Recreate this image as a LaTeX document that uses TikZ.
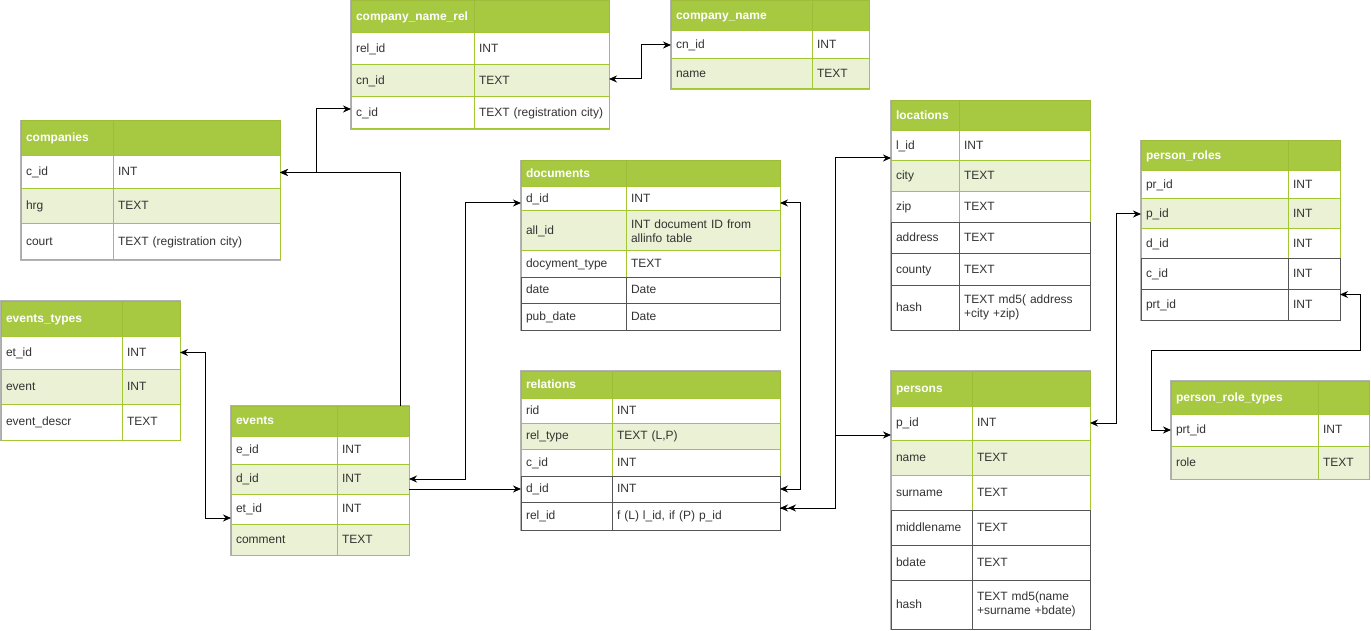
\documentclass[tikz,border=0pt]{standalone}
\usepackage{fontspec}
\setmainfont{Liberation Sans}
\usepackage{xcolor}
\usepackage{tikz}
\usetikzlibrary{arrows.meta}
\usetikzlibrary{backgrounds}
\definecolor{hdrgreen}{HTML}{A7C942}
\definecolor{hdrline}{HTML}{9CBC3A}
\definecolor{rowgreen}{HTML}{A3C634}
\definecolor{altfill}{HTML}{EAF1D5}
\definecolor{darkline}{HTML}{555555}
\definecolor{frameg}{HTML}{B3B3B3}
\definecolor{txt}{HTML}{333333}
\hyphenpenalty=10000
\exhyphenpenalty=10000

\begin{document}
\begin{tikzpicture}[x=1pt,y=-1pt,
  every node/.style={anchor=north west,inner xsep=5pt,inner ysep=0pt,outer sep=0pt,
    align=left,font=\fontsize{12}{14}\selectfont,text=txt},
  base/.style={draw=rowgreen,fill=white,line width=1pt},
  fld/.style={base,text height=10pt,text depth=3pt},
  fld2/.style={base},
  altrow/.style={fill=altfill},
  darkrow/.style={draw=darkline},
  hdr/.style={fill=hdrgreen,draw=hdrline,line width=1pt,text=white,
    font=\fontsize{12}{14}\selectfont\bfseries,text height=10pt,text depth=3pt},
  ht/.style={minimum height=#1},
  tblframe/.style={draw=frameg,line width=2.5pt},
  link/.style={draw=black,line width=1pt,>={Stealth[length=8pt,width=7pt]}},
  dbl/.style={arrows={Stealth[length=8pt,width=7pt] Stealth[length=8pt,width=7pt]-Stealth[length=8pt,width=7pt]}}]
\useasboundingbox (0,0) rectangle (1371,631);

% company_name_rel
\begin{scope}[nm/.style={text width=113pt},ty/.style={text width=125pt}]
\node[hdr,nm,ht=32] (cnr) at (351,1) {company\_name\_rel};
\node[hdr,ty,ht=32] (cnr-h) at (474,1) {};
\node[fld,nm,ht=32] (cnr-relid) at (351,33) {rel\_id};
\node[fld,ty,ht=32] (cnr-relid-t) at (474,33) {INT};
\node[fld,altrow,nm,ht=32] (cnr-cnid) at (351,65) {cn\_id};
\node[fld,altrow,ty,ht=32] (cnr-cnid-t) at (474,65) {TEXT};
\node[fld,nm,ht=32] (cnr-cid) at (351,97) {c\_id};
\node[fld,ty,ht=32] (cnr-cid-t) at (474,97) {TEXT (registration city)};
\end{scope}

% company_name
\begin{scope}[nm/.style={text width=131pt},ty/.style={text width=47pt}]
\node[hdr,nm,ht=30] (cn) at (671,1) {company\_name};
\node[hdr,ty,ht=30] (cn-h) at (812,1) {};
\node[fld,nm,ht=28] (cn-cnid) at (671,31) {cn\_id};
\node[fld,ty,ht=28] (cn-cnid-t) at (812,31) {INT};
\node[fld,altrow,nm,ht=30] (cn-name) at (671,59) {name};
\node[fld,altrow,ty,ht=30] (cn-name-t) at (812,59) {TEXT};
\end{scope}

% companies
\begin{scope}[nm/.style={text width=82pt},ty/.style={text width=157pt}]
\node[hdr,nm,ht=35] (comp) at (21,121) {companies};
\node[hdr,ty,ht=35] (comp-h) at (113,121) {};
\node[fld,nm,ht=33] (comp-cid) at (21,156) {c\_id};
\node[fld,ty,ht=33] (comp-cid-t) at (113,156) {INT};
\node[fld,altrow,nm,ht=35] (comp-hrg) at (21,189) {hrg};
\node[fld,altrow,ty,ht=35] (comp-hrg-t) at (113,189) {TEXT};
\node[fld,nm,ht=36] (comp-court) at (21,224) {court};
\node[fld,ty,ht=36] (comp-court-t) at (113,224) {TEXT (registration city)};
\end{scope}

% events_types
\begin{scope}[nm/.style={text width=111pt},ty/.style={text width=48pt}]
\node[hdr,nm,ht=35] (et) at (1,301) {events\_types};
\node[hdr,ty,ht=35] (et-h) at (122,301) {};
\node[fld,nm,ht=33] (et-etid) at (1,336) {et\_id};
\node[fld,ty,ht=33] (et-etid-t) at (122,336) {INT};
\node[fld,altrow,nm,ht=35] (et-event) at (1,369) {event};
\node[fld,altrow,ty,ht=35] (et-event-t) at (122,369) {INT};
\node[fld,nm,ht=36] (et-descr) at (1,404) {event\_descr};
\node[fld,ty,ht=36] (et-descr-t) at (122,404) {TEXT};
\end{scope}

% events
\begin{scope}[nm/.style={text width=96pt},ty/.style={text width=62pt}]
\node[hdr,nm,ht=30] (ev) at (231,406) {events};
\node[hdr,ty,ht=30] (ev-h) at (337,406) {};
\node[fld,nm,ht=28] (ev-eid) at (231,436) {e\_id};
\node[fld,ty,ht=28] (ev-eid-t) at (337,436) {INT};
\node[fld,altrow,nm,ht=30] (ev-did) at (231,464) {d\_id};
\node[fld,altrow,ty,ht=30] (ev-did-t) at (337,464) {INT};
\node[fld,nm,ht=30] (ev-etid) at (231,494) {et\_id};
\node[fld,ty,ht=30] (ev-etid-t) at (337,494) {INT};
\node[fld,altrow,nm,ht=31] (ev-comment) at (231,524) {comment};
\node[fld,altrow,ty,ht=31] (ev-comment-t) at (337,524) {TEXT};
\end{scope}

% documents
\begin{scope}[nm/.style={text width=95pt},ty/.style={text width=144pt}]
\node[hdr,nm,ht=26] (doc) at (521,161) {documents};
\node[hdr,ty,ht=26] (doc-h) at (626,161) {};
\node[fld,nm,ht=24] (doc-did) at (521,187) {d\_id};
\node[fld,ty,ht=24] (doc-did-t) at (626,187) {INT};
\node[fld,altrow,nm,ht=40] (doc-allid) at (521,211) {all\_id};
\node[fld2,altrow,ty,ht=40] (doc-allid-t) at (626,211) {INT document ID from\\allinfo table};
\node[fld,nm,ht=26] (doc-type) at (521,251) {docyment\_type};
\node[fld,ty,ht=26] (doc-type-t) at (626,251) {TEXT};
\node[fld,darkrow,nm,ht=26] (doc-date) at (521,277) {date};
\node[fld,darkrow,ty,ht=26] (doc-date-t) at (626,277) {Date};
\node[fld,darkrow,nm,ht=27] (doc-pub) at (521,303) {pub\_date};
\node[fld,darkrow,ty,ht=27] (doc-pub-t) at (626,303) {Date};
\end{scope}

% relations
\begin{scope}[nm/.style={text width=81pt},ty/.style={text width=158pt}]
\node[hdr,nm,ht=27] (rel) at (521,371) {relations};
\node[hdr,ty,ht=27] (rel-h) at (612,371) {};
\node[fld,nm,ht=25] (rel-rid) at (521,398) {rid};
\node[fld,ty,ht=25] (rel-rid-t) at (612,398) {INT};
\node[fld,altrow,nm,ht=26] (rel-type) at (521,423) {rel\_type};
\node[fld,altrow,ty,ht=26] (rel-type-t) at (612,423) {TEXT (L,P)};
\node[fld,nm,ht=27] (rel-cid) at (521,449) {c\_id};
\node[fld,ty,ht=27] (rel-cid-t) at (612,449) {INT};
\node[fld,darkrow,nm,ht=26] (rel-did) at (521,476) {d\_id};
\node[fld,darkrow,ty,ht=26] (rel-did-t) at (612,476) {INT};
\node[fld,darkrow,nm,ht=28] (rel-relid) at (521,502) {rel\_id};
\node[fld,darkrow,ty,ht=28] (rel-relid-t) at (612,502) {f (L) l\_id, if (P) p\_id};
\end{scope}

% locations
\begin{scope}[nm/.style={text width=58pt},ty/.style={text width=121pt}]
\node[hdr,nm,ht=30] (loc) at (891,101) {locations};
\node[hdr,ty,ht=30] (loc-h) at (959,101) {};
\node[fld,nm,ht=30] (loc-lid) at (891,131) {l\_id};
\node[fld,ty,ht=30] (loc-lid-t) at (959,131) {INT};
\node[fld,altrow,nm,ht=31] (loc-city) at (891,161) {city};
\node[fld,altrow,ty,ht=31] (loc-city-t) at (959,161) {TEXT};
\node[fld,nm,ht=31] (loc-zip) at (891,192) {zip};
\node[fld,ty,ht=31] (loc-zip-t) at (959,192) {TEXT};
\node[fld,darkrow,nm,ht=31] (loc-addr) at (891,223) {address};
\node[fld,darkrow,ty,ht=31] (loc-addr-t) at (959,223) {TEXT};
\node[fld,darkrow,nm,ht=31] (loc-county) at (891,254) {county};
\node[fld,darkrow,ty,ht=31] (loc-county-t) at (959,254) {TEXT};
\node[fld,darkrow,nm,ht=45] (loc-hash) at (891,285) {hash};
\node[fld2,darkrow,ty,ht=45] (loc-hash-t) at (959,285) {TEXT md5( address\\+city +zip)};
\end{scope}

% persons
\begin{scope}[nm/.style={text width=71pt},ty/.style={text width=108pt}]
\node[hdr,nm,ht=35] (per) at (891,371) {persons};
\node[hdr,ty,ht=35] (per-h) at (972,371) {};
\node[fld,nm,ht=34] (per-pid) at (891,406) {p\_id};
\node[fld,ty,ht=34] (per-pid-t) at (972,406) {INT};
\node[fld,altrow,nm,ht=35] (per-name) at (891,440) {name};
\node[fld,altrow,ty,ht=35] (per-name-t) at (972,440) {TEXT};
\node[fld,nm,ht=35] (per-sur) at (891,475) {surname};
\node[fld,ty,ht=35] (per-sur-t) at (972,475) {TEXT};
\node[fld,darkrow,nm,ht=35] (per-mid) at (891,510) {middlename};
\node[fld,darkrow,ty,ht=35] (per-mid-t) at (972,510) {TEXT};
\node[fld,darkrow,nm,ht=35] (per-bdate) at (891,545) {bdate};
\node[fld,darkrow,ty,ht=35] (per-bdate-t) at (972,545) {TEXT};
\node[fld,darkrow,nm,ht=49] (per-hash) at (891,580) {hash};
\node[fld2,darkrow,ty,ht=49] (per-hash-t) at (972,580) {TEXT md5(name\\+surname +bdate)};
\end{scope}

% person_roles
\begin{scope}[nm/.style={text width=137pt},ty/.style={text width=42pt}]
\node[hdr,nm,ht=30] (pr) at (1141,141) {person\_roles};
\node[hdr,ty,ht=30] (pr-h) at (1288,141) {};
\node[fld,nm,ht=28] (pr-prid) at (1141,171) {pr\_id};
\node[fld,ty,ht=28] (pr-prid-t) at (1288,171) {INT};
\node[fld,altrow,nm,ht=30] (pr-pid) at (1141,199) {p\_id};
\node[fld,altrow,ty,ht=30] (pr-pid-t) at (1288,199) {INT};
\node[fld,nm,ht=30] (pr-did) at (1141,229) {d\_id};
\node[fld,ty,ht=30] (pr-did-t) at (1288,229) {INT};
\node[fld,darkrow,nm,ht=30] (pr-cid) at (1141,259) {c\_id};
\node[fld,darkrow,ty,ht=30] (pr-cid-t) at (1288,259) {INT};
\node[fld,darkrow,nm,ht=31] (pr-prtid) at (1141,289) {prt\_id};
\node[fld,darkrow,ty,ht=31] (pr-prtid-t) at (1288,289) {INT};
\end{scope}

% person_role_types
\begin{scope}[nm/.style={text width=137pt},ty/.style={text width=41pt}]
\node[hdr,nm,ht=33] (prt) at (1171,381) {person\_role\_types};
\node[hdr,ty,ht=33] (prt-h) at (1318,381) {};
\node[fld,nm,ht=32] (prt-prtid) at (1171,414) {prt\_id};
\node[fld,ty,ht=32] (prt-prtid-t) at (1318,414) {INT};
\node[fld,altrow,nm,ht=33] (prt-role) at (1171,446) {role};
\node[fld,altrow,ty,ht=33] (prt-role-t) at (1318,446) {TEXT};
\end{scope}

% table frames
\begin{scope}[on background layer]
\draw[tblframe] (cnr.north west) rectangle (cnr-cid-t.south east);
\draw[tblframe] (cn.north west) rectangle (cn-name-t.south east);
\draw[tblframe] (comp.north west) rectangle (comp-court-t.south east);
\draw[tblframe] (et.north west) rectangle (et-descr-t.south east);
\draw[tblframe] (ev.north west) rectangle (ev-comment-t.south east);
\draw[tblframe] (doc.north west) rectangle (doc-pub-t.south east);
\draw[tblframe] (rel.north west) rectangle (rel-relid-t.south east);
\draw[tblframe] (loc.north west) rectangle (loc-hash-t.south east);
\draw[tblframe] (per.north west) rectangle (per-hash-t.south east);
\draw[tblframe] (pr.north west) rectangle (pr-prtid-t.south east);
\draw[tblframe] (prt.north west) rectangle (prt-role-t.south east);
\end{scope}

% links
\draw[link,<->] ([yshift=4pt]cnr-cid.west) -- ++(-35,0) |- (comp-cid-t.east);
\draw[link,->] ([xshift=-9pt]ev-h.north east) |- (comp-cid-t.east);
\draw[link,<->] ([yshift=2pt]cnr-cnid-t.east) -- ++(32,0) |- (cn-cnid.west);
\draw[link,<->] (et-etid-t.east) -- ++(25,0) |- ([yshift=-9pt]ev-etid.west);
\draw[link,<->] (ev-did-t.east) -- ++(56,0) |- ([yshift=-4pt]doc-did.west);
\draw[link,->] (rel-did.west -| ev-did-t.east) -- (rel-did.west);
\draw[link,<->] ([yshift=-4pt]doc-did-t.east) -- ++(20,0) |- (rel-did-t.east);
\draw[link,dbl] ([yshift=8pt]rel-relid-t.east) -- ++(55,0) |- ([yshift=-12pt]loc-lid.west);
\draw[link,->] ([yshift=8pt]rel-relid-t.east) -- ++(55,0) |- ([yshift=-12pt]per-pid.west);
\draw[link,<->] (per-pid-t.east) -- ++(26,0) |- (pr-pid.west);
\draw[link,<->] ([yshift=10pt]pr-prtid-t.east) -- ++(20,0) -- ++(0,56) -| ([xshift=-20pt]prt-prtid.west) -- (prt-prtid.west);
\end{tikzpicture}
\end{document}
